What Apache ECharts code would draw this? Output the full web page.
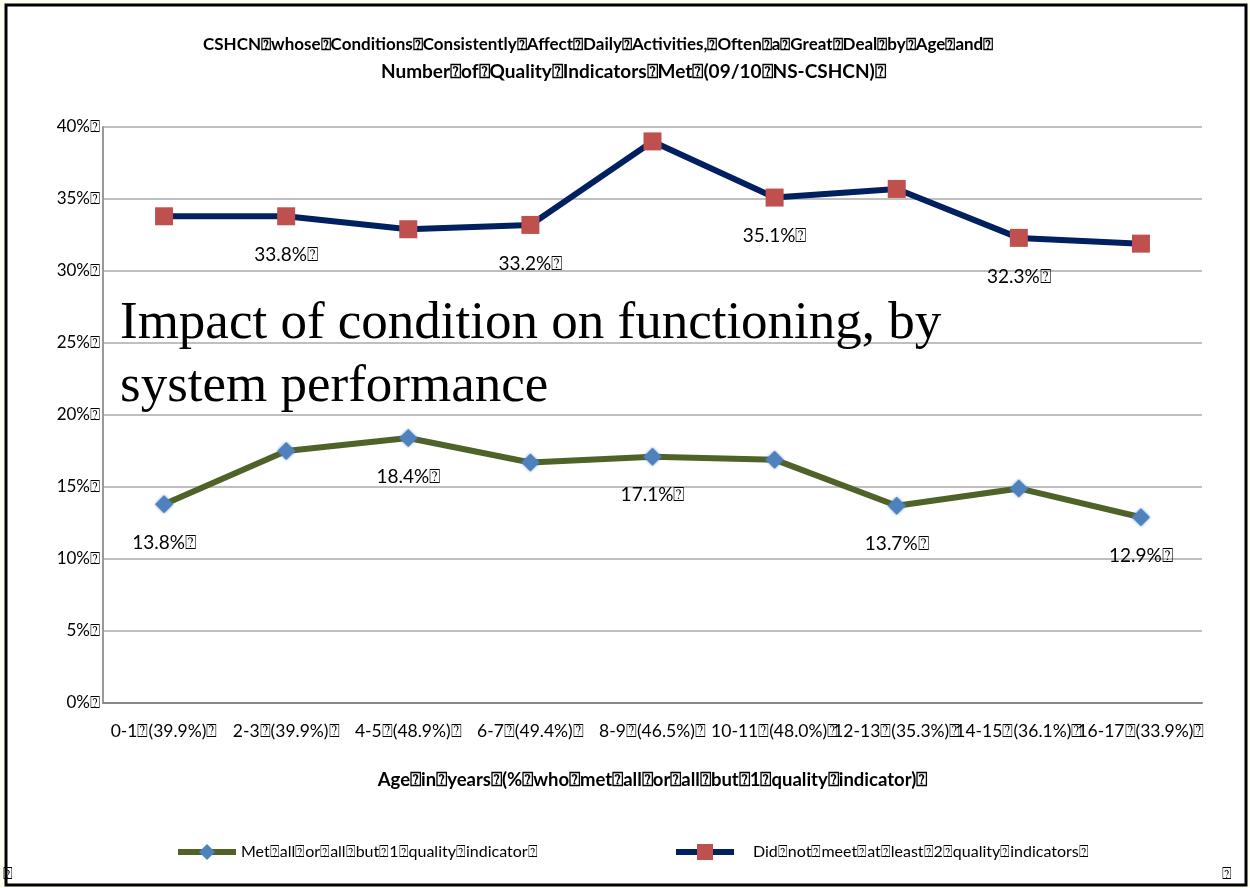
<!DOCTYPE html>
<html>
<head>
<meta charset="utf-8">
<script src="https://cdn.jsdelivr.net/npm/echarts@6/dist/echarts.min.js"></script>
<style>
  html, body { margin: 0; padding: 0; background: #FFFFF2; }
  #chart { width: 1250px; height: 888px; }
</style>
</head>
<body>
<div id="chart"></div>
<script>
// Placeholder glyph used where the source text had unrenderable spaces
const Q = '\u2370';

const categories = [
  '0-1' + Q + '(39.9%)' + Q, '2-3' + Q + '(39.9%)' + Q, '4-5' + Q + '(48.9%)' + Q,
  '6-7' + Q + '(49.4%)' + Q, '8-9' + Q + '(46.5%)' + Q, '10-11' + Q + '(48.0%)' + Q,
  '12-13' + Q + '(35.3%)' + Q, '14-15' + Q + '(36.1%)' + Q, '16-17' + Q + '(33.9%)' + Q
];

// Percent of CSHCN, by quality-indicator group
const metAllOrAllBut1 = [13.8, 17.5, 18.4, 16.7, 17.1, 16.9, 13.7, 14.9, 12.9];
const didNotMeet2 = [33.8, 33.8, 32.9, 33.2, 39.0, 35.1, 35.7, 32.3, 31.9];

// Which points carry a value label
const metLabelled = [true, false, true, false, true, false, true, false, true];
const didLabelled = [false, true, false, true, false, true, false, true, false];

const yTicks = [0, 5, 10, 15, 20, 25, 30, 35, 40];

const seriesNames = [
  'Met' + Q + 'all' + Q + 'or' + Q + 'all' + Q + 'but' + Q + '1' + Q + 'quality' + Q + 'indicator' + Q,
  'Did' + Q + 'not' + Q + 'meet' + Q + 'at' + Q + 'least' + Q + '2' + Q + 'quality' + Q + 'indicators' + Q
];

const titleLines = [
  'CSHCN' + Q + 'whose' + Q + 'Conditions' + Q + 'Consistently' + Q + 'Affect' + Q + 'Daily' + Q + 'Activities,' + Q + 'Often' + Q + 'a' + Q + 'Great' + Q + 'Deal' + Q + 'by' + Q + 'Age' + Q + 'and' + Q,
  'Number' + Q + 'of' + Q + 'Quality' + Q + 'Indicators' + Q + 'Met' + Q + '(09/10' + Q + 'NS-CSHCN)' + Q
];
const xTitle = 'Age' + Q + 'in' + Q + 'years' + Q + '(%' + Q + 'who' + Q + 'met' + Q + 'all' + Q + 'or' + Q + 'all' + Q + 'but' + Q + '1' + Q + 'quality' + Q + 'indicator)' + Q;
const overlayText = 'Impact of condition on functioning, by\nsystem performance';

const FONT = 'Lato';
const chart = echarts.init(document.getElementById('chart'));

function pointData(values, flags) {
  return values.map((v, i) => ({
    value: v,
    label: { show: flags[i] }
  }));
}

const valueLabel = {
  position: 'bottom',
  distance: 20,
  fontFamily: FONT,
  fontSize: 19,
  color: '#000',
  formatter: p => p.value.toFixed(1) + '%' + Q
};

const legendText = { fontFamily: FONT, fontSize: 16, color: '#000' };

chart.setOption({
  backgroundColor: '#FFFFF2',
  animation: false,
  graphic: [
    {
      type: 'rect', z: -10,
      shape: { x: 6, y: 5, width: 1240, height: 880 },
      style: { fill: '#fff', stroke: '#000', lineWidth: 3 }
    },
    {
      type: 'text', left: 203, top: 36,
      style: {
        text: titleLines[0], fontFamily: FONT, fontWeight: 'bold',
        fontSize: 17, fill: '#000'
      }
    },
    {
      type: 'text', left: 381, top: 62,
      style: {
        text: titleLines[1], fontFamily: FONT, fontWeight: 'bold',
        fontSize: 19, fill: '#000'
      }
    },
    {
      type: 'text', left: 120, top: 293, z: 100,
      style: {
        text: overlayText, fontFamily: 'Liberation Serif',
        fontSize: 53, lineHeight: 63, fill: '#000'
      }
    },
    {
      type: 'text', left: 1222, top: 866,
      style: { text: Q, fontFamily: FONT, fontSize: 16, fill: '#000' }
    },
    {
      type: 'text', left: 3, top: 866,
      style: { text: Q, fontFamily: FONT, fontSize: 16, fill: '#000' }
    }
  ],
  grid: { left: 103, right: 48, top: 127, bottom: 185 },
  legend: [
    {
      bottom: 23, left: 170,
      itemWidth: 58, itemHeight: 20,
      lineStyle: { width: 6 },
      textStyle: legendText,
      data: [seriesNames[0]]
    },
    {
      bottom: 23, left: 668,
      itemWidth: 58, itemHeight: 20,
      lineStyle: { width: 6 },
      textStyle: Object.assign({ padding: [0, 0, 0, 14] }, legendText),
      data: [seriesNames[1]]
    }
  ],
  xAxis: {
    type: 'category',
    data: categories,
    boundaryGap: true,
    name: xTitle,
    nameLocation: 'middle',
    nameGap: 68,
    nameTextStyle: { fontFamily: FONT, fontWeight: 'bold', fontSize: 18.5, color: '#000' },
    axisLine: { lineStyle: { color: '#888', width: 2 } },
    axisTick: { show: false },
    axisLabel: { interval: 0, fontFamily: FONT, fontSize: 17.5, color: '#000', margin: 19 }
  },
  yAxis: {
    type: 'value',
    min: yTicks[0],
    max: yTicks[yTicks.length - 1],
    interval: 5,
    axisLine: { show: true, lineStyle: { color: '#999', width: 2 } },
    axisTick: { show: false },
    splitLine: { lineStyle: { color: '#BFBFBF', width: 2 } },
    axisLabel: {
      fontFamily: FONT, fontSize: 17, color: '#000', margin: 3,
      formatter: v => v + '%' + Q
    }
  },
  series: [
    {
      name: seriesNames[0],
      type: 'line',
      data: pointData(metAllOrAllBut1, metLabelled),
      symbol: 'diamond',
      symbolSize: 18,
      lineStyle: { color: '#4F6228', width: 6 },
      itemStyle: { color: '#4F81BD', shadowBlur: 3, shadowColor: 'rgba(79,129,189,0.8)' },
      label: valueLabel,
      z: 3
    },
    {
      name: seriesNames[1],
      type: 'line',
      data: pointData(didNotMeet2, didLabelled),
      symbol: 'rect',
      symbolSize: 18,
      lineStyle: { color: '#002060', width: 6 },
      itemStyle: { color: '#C0504D' },
      label: valueLabel,
      z: 3
    }
  ]
});
</script>
</body>
</html>
